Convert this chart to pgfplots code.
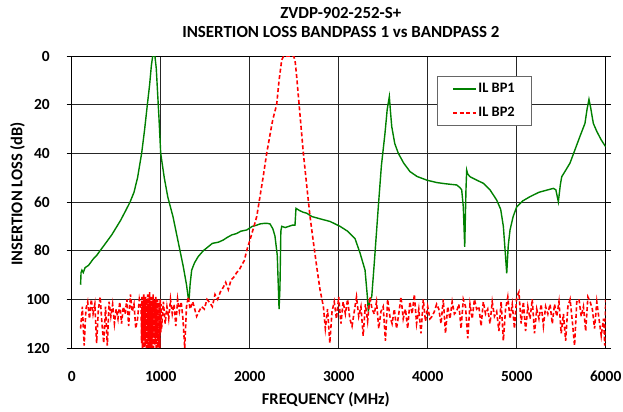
\documentclass[border=0pt]{standalone}
\usepackage{pgfplots}
\pgfplotsset{compat=1.18}
\usepackage{fontspec}
\setmainfont{Carlito}
\definecolor{bpgreen}{RGB}{0,128,0}
\definecolor{bpred}{RGB}{255,0,0}
\begin{document}
\begin{tikzpicture}
\useasboundingbox (-71.7bp,-64bp) rectangle (551.3bp,348bp);
\begin{axis}[
  scale only axis,
  width=534bp, height=292bp,
  xmin=0, xmax=6000, ymin=0, ymax=120,
  y dir=reverse,
  xtick={0,1000,...,6000}, ytick={0,20,...,120},
  grid=major,
  major grid style={black!85, line width=0.9bp},
  axis line style={black, line width=0.9bp},
  tick align=outside,
  major tick length=5bp,
  ytick style={black, line width=0.9bp},
  xtick style={draw=none},
  /pgf/number format/assume math mode=true,
  /pgf/number format/1000 sep={},
  ticklabel style={font=\fontsize{15.5}{18}\selectfont\bfseries, inner sep=0pt},
  xticklabel style={anchor=base, yshift=-28.7bp},
  yticklabel style={anchor=east, xshift=-16.7bp},
  label style={font=\fontsize{16.5}{19}\selectfont\bfseries, inner sep=0pt},
  xlabel={FREQUENCY (MHz)},
  ylabel={INSERTION LOSS (dB)},
  xlabel style={at={(0.476,0)}, anchor=base, yshift=-56bp},
  ylabel style={at={(-0.1015,0.281)}, anchor=west},
  title={ZVDP-902-252-S+\\INSERTION LOSS BANDPASS 1 vs BANDPASS 2},
  title style={font=\fontsize{17}{18.6}\selectfont\bfseries, align=center, at={(0.504,1)}, anchor=south, inner sep=0pt, yshift=12.5bp},
  legend style={at={(0.684,0.933)}, anchor=north west, draw=black!60, line width=0.8bp,
    fill=white, font=\fontsize{14.5}{17}\selectfont\bfseries, inner xsep=15bp, inner ysep=6bp,
    row sep=10bp, nodes={inner sep=1.5bp}},
  legend image code/.code={\draw[#1] (0bp,0bp) -- (23bp,0bp);},
  legend cell align=left,
]
\addplot[bpgreen, line width=1.4bp] coordinates {
(100,94) (105,89) (115,88) (130,89) (150,87) (170,86.5) (190,86) (210,85) (240,83.5) (280,82)
(319,80) (360,78) (400,76) (450,73.5) (500,70.5) (550,67.5) (600,64) (656,60) (700,56) (740,50)
(786,40) (820,30) (850,20) (875,12) (895,4) (910,0) (935,0) (950,5) (965,15) (980,25)
(1000,40) (1040,50) (1080,58) (1138,66) (1200,77) (1254,86.6) (1290,94) (1310,99.5) (1320,99.5) (1330,94)
(1348,88) (1380,85) (1420,82.5) (1479,80) (1530,78.5) (1580,77) (1650,76.5) (1704,75.6) (1750,74.5) (1800,73.5)
(1850,73) (1900,72) (1966,71.5) (2030,70) (2080,69.5) (2116,69) (2160,68.8) (2200,68.8) (2228,69) (2260,71)
(2284,74) (2310,82) (2330,104) (2340,95) (2350,72) (2360,70) (2400,70.5) (2440,70) (2480,69.5) (2509,69.5)
(2520,62.6) (2560,63.5) (2600,64.2) (2640,64.6) (2700,66) (2800,67) (2903,68) (3015,70) (3100,72) (3183,75)
(3240,81) (3296,88) (3320,98) (3333,105) (3350,100) (3371,99) (3400,85) (3445,62) (3480,45) (3520,31.8)
(3545,22) (3569,16.7) (3580,22) (3596,29) (3630,36) (3670,40) (3730,44) (3801,47.5) (3880,49.5) (3989,51)
(4100,52) (4200,52.5) (4326,53) (4360,54) (4382,55) (4400,62) (4416,78.4) (4430,55) (4438,46.9) (4450,48.5)
(4475,49.6) (4550,51) (4625,52.3) (4700,55) (4775,59.2) (4820,63) (4850,70) (4870,80) (4888,89.3) (4905,78)
(4925,71.5) (4960,66) (5000,62) (5070,59.5) (5150,57.8) (5250,56) (5350,55) (5412,54.4) (5440,55) (5468,59.9)
(5490,53) (5506,49.6) (5550,47) (5599,44) (5650,39) (5711,33) (5767,27.7) (5790,22) (5812,17.8) (5830,21)
(5861,27.7) (5900,31) (5950,34.5) (6000,37.3)
};
\addlegendentry{IL BP1}
\addplot[bpred, line width=1.6bp, dash pattern=on 4bp off 2.5bp] coordinates {
(100,112) (120,103) (140,119) (160,104) (180,101) (200,108) (220,100) (240,106) (260,102) (280,118)
(300,104) (320,99) (340,110) (360,118) (380,103) (400,119) (420,101) (440,107) (460,102) (480,110)
(500,104) (520,108) (540,101) (560,110) (580,103) (600,106) (620,100) (640,111) (660,98) (680,105)
(700,102) (720,112) (740,108) (760,100)
(780,104) (785,118) (790,99) (795,120) (800,101) (805,116) (810,98) (815,120) (820,103) (825,119)
(830,99) (835,114) (840,120) (845,100) (850,117) (855,98) (860,120) (865,102) (870,115) (875,97)
(880,120) (885,101) (890,118) (895,99) (900,120) (905,103) (910,116) (915,98) (920,120) (925,100)
(930,119) (935,102) (940,117) (945,99) (950,120) (955,104) (960,115) (965,100) (970,120) (975,101)
(980,118) (985,103) (990,120) (995,100) (1000,114) (1005,102) (1010,112)
(1030,101) (1050,110) (1070,103) (1090,108) (1110,100) (1130,106) (1150,102) (1170,111) (1190,100) (1210,105)
(1230,101) (1250,108) (1270,120) (1290,103) (1310,99) (1330,104) (1360,101) (1404,107) (1430,105) (1460,103)
(1490,104) (1520,100) (1554,101.5) (1580,103) (1610,98) (1640,100) (1670,97) (1704,95) (1730,93) (1760,96)
(1790,92) (1820,91) (1854,89) (1880,88) (1910,86) (1940,84) (1966,80) (2000,76) (2040,71) (2079,66)
(2110,59) (2150,50) (2191,40) (2230,32) (2260,26) (2303,20) (2330,10) (2360,1.6) (2382,0) (2494,0)
(2510,2) (2528,8.5) (2560,22) (2603,40) (2640,53) (2678,66) (2710,75) (2753,86.6) (2790,96) (2828,103)
(2850,112) (2875,104) (2900,118) (2925,105) (2950,101) (2975,108) (3000,99) (3025,110) (3050,101) (3075,106)
(3100,100) (3125,108) (3150,111) (3175,105) (3200,99) (3225,107) (3250,103) (3275,115) (3300,102) (3325,109)
(3350,99) (3375,104) (3400,106) (3425,101) (3450,112) (3475,105) (3500,103) (3525,117) (3550,100) (3575,107)
(3600,110) (3625,104) (3650,112) (3675,106) (3700,99) (3725,108) (3750,104) (3775,112) (3800,101) (3825,106)
(3850,98) (3875,110) (3900,104) (3925,114) (3950,100) (3975,109) (4000,103) (4025,108) (4050,107) (4075,105)
(4100,102) (4125,104) (4150,110) (4175,100) (4200,114) (4225,103) (4250,108) (4275,101) (4300,106) (4325,105)
(4350,102) (4375,112) (4400,100) (4425,103) (4450,116) (4475,102) (4500,108) (4525,100) (4550,104) (4575,103)
(4600,111) (4625,101) (4650,106) (4675,104) (4700,110) (4725,101) (4750,107) (4775,105) (4800,113) (4825,101)
(4850,117) (4875,104) (4900,99) (4925,108) (4950,102) (4975,112) (5000,99) (5025,97) (5050,110) (5075,101)
(5100,113) (5125,103) (5150,108) (5175,100) (5200,114) (5225,104) (5250,108) (5275,102) (5300,111) (5325,103)
(5350,106) (5375,102) (5400,110) (5425,102) (5450,107) (5475,101) (5500,114) (5525,106) (5550,117) (5575,103)
(5600,100) (5625,109) (5650,119) (5675,101) (5700,100) (5725,107) (5750,103) (5775,113) (5800,99) (5825,101)
(5850,104) (5875,112) (5900,101) (5925,108) (5950,115) (5975,108) (5990,119) (6000,100)
};
\addlegendentry{IL BP2}
\end{axis}
\end{tikzpicture}
\end{document}
